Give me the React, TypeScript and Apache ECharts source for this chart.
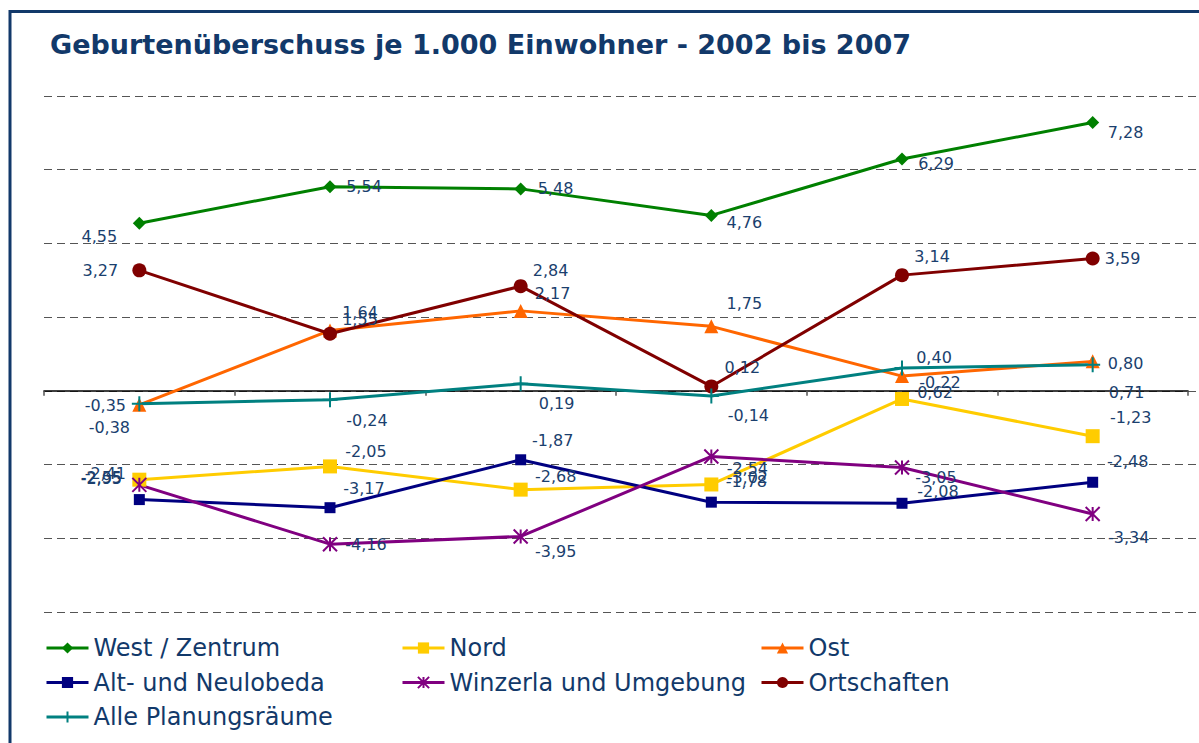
import React, { useEffect, useRef } from "react";
import * as echarts from "echarts";

const categories = ["2002", "2003", "2004", "2005", "2006", "2007"];
const westZentrum = [4.55, 5.54, 5.48, 4.76, 6.29, 7.28];
const nord = [-2.41, -2.05, -2.68, -2.54, -0.22, -1.23];
const ost = [-0.38, 1.64, 2.17, 1.75, 0.4, 0.8];
const altNeulobeda = [-2.95, -3.17, -1.87, -3.02, -3.05, -2.48];
const winzerla = [-2.55, -4.16, -3.95, -1.78, -2.08, -3.34];
const ortschaften = [3.27, 1.55, 2.84, 0.12, 3.14, 3.59];
const allePlanungsraeume = [-0.35, -0.24, 0.19, -0.14, 0.62, 0.71];

// label placement (layout only)
const offWest = [[-40, 13], [34, 0], [35, 0], [33, 7], [34, 4], [33, 10]];
const offNord = [[-34, -6], [36, -15], [35, -13], [36, -16], [38, -16], [38, -19]];
const offOst = [[-30, 23], [30, -18], [32, -17], [33, -23], [32, -19], [33, 2]];
const offAlt = [[-38, -21], [34, -19], [32, -19], [36, -25], [34, -26], [35, -21]];
const offWinz = [[-38, -7], [36, 0], [35, 15], [35, 25], [36, 24], [36, 24]];
const offOrt = [[-39, 0], [30, -14], [30, -16], [31, -19], [30, -19], [30, 0]];
const offAlle = [[-34, 2], [37, 21], [36, 20], [37, 19], [33, 24], [34, 28]];

const FONT = "'DejaVu Sans', Verdana, sans-serif";
const LABEL_COLOR = "#1b3f6e";
const NAVY = "#12396a";

const fmt = (v: number) => v.toFixed(2).replace(".", ",");

function mkSeries(
  name: string,
  values: number[],
  offsets: number[][],
  color: string,
  symbol: string,
  symbolSize: number,
  stroke = false
) {
  return {
    name,
    type: "line",
    xAxisIndex: 0,
    yAxisIndex: 0,
    symbol,
    symbolSize,
    showAllSymbol: true,
    lineStyle: { color, width: 3 },
    itemStyle: stroke
      ? { color, borderColor: color, borderWidth: 2 }
      : { color, borderWidth: 0 },
    data: values.map((v, i) => ({
      value: v,
      label: {
        show: true,
        position: "inside",
        offset: offsets[i],
        formatter: fmt(v),
        color: LABEL_COLOR,
        fontSize: 16,
        fontFamily: FONT,
        textBorderWidth: 0,
      },
    })),
  };
}

export default function App() {
  const ref = useRef<HTMLDivElement>(null);

  useEffect(() => {
    document.body.style.margin = "0";
    if (!ref.current) return;
    const chart = echarts.init(ref.current, null, { renderer: "svg" });
    const legendText = {
      color: NAVY,
      fontSize: 24,
      fontFamily: FONT,
      lineHeight: 24,
    };
    const legendCommon = {
      orient: "vertical",
      top: 636,
      padding: 0,
      itemWidth: 42,
      itemHeight: 14,
      itemGap: 10.5,
      textStyle: legendText,
      lineStyle: { width: 3 },
    };
    chart.setOption({
      animation: false,
      backgroundColor: "#ffffff",
      title: {
        text: "Geburtenüberschuss je 1.000 Einwohner - 2002 bis 2007",
        left: 50,
        top: 31,
        padding: 0,
        textStyle: {
          color: NAVY,
          fontSize: 27,
          fontWeight: "bold",
          fontFamily: FONT,
        },
      },
      graphic: [
        {
          type: "rect",
          shape: { x: 10, y: 11.5, width: 1400, height: 900 },
          style: { fill: "none", stroke: NAVY, lineWidth: 3 },
          silent: true,
        },
      ],
      legend: [
        { ...legendCommon, left: 45, data: ["West / Zentrum", "Alt- und Neulobeda", "Alle Planungsräume"] },
        { ...legendCommon, left: 401, data: ["Nord", "Winzerla und Umgebung"] },
        { ...legendCommon, left: 760, data: ["Ost", "Ortschaften"] },
      ],
      grid: [
        { left: 44, right: 11, top: 96, bottom: 131, containLabel: false },
        { left: 44, right: 0, top: 96, bottom: 131, containLabel: false },
      ],
      xAxis: [
        {
          type: "category",
          gridIndex: 0,
          data: categories,
          boundaryGap: true,
          axisLine: { show: true, onZero: true, lineStyle: { color: "#000000", width: 1.5 } },
          axisTick: { show: true, length: 5, inside: false, lineStyle: { color: "#555555", width: 1.5 } },
          axisLabel: { show: false },
          splitLine: { show: false },
        },
        {
          type: "category",
          gridIndex: 1,
          data: categories,
          show: false,
        },
      ],
      yAxis: [
        {
          type: "value",
          gridIndex: 0,
          min: -6,
          max: 8,
          interval: 2,
          axisLine: { show: false },
          axisTick: { show: false },
          axisLabel: { show: false },
          splitLine: { show: false },
        },
        {
          type: "value",
          gridIndex: 1,
          min: -6,
          max: 8,
          interval: 2,
          axisLine: { show: false },
          axisTick: { show: false },
          axisLabel: { show: false },
          splitLine: {
            show: true,
            lineStyle: { color: "#555555", width: 1.2, type: [8, 5] },
          },
        },
      ],
      series: [
        mkSeries("West / Zentrum", westZentrum, offWest, "#008000", "diamond", 13),
        mkSeries("Nord", nord, offNord, "#FFCC00", "rect", 14),
        mkSeries("Ost", ost, offOst, "#FF6600", "triangle", 14),
        mkSeries("Alt- und Neulobeda", altNeulobeda, offAlt, "#000080", "rect", 11),
        mkSeries(
          "Winzerla und Umgebung",
          winzerla,
          offWinz,
          "#800080",
          "path://M-1,-1L1,1M1,-1L-1,1M0,-1L0,1",
          14,
          true
        ),
        mkSeries("Ortschaften", ortschaften, offOrt, "#800000", "circle", 14),
        mkSeries(
          "Alle Planungsräume",
          allePlanungsraeume,
          offAlle,
          "#008080",
          "path://M0,-1L0,1M-1,0L1,0",
          15,
          true
        ),
      ],
    });
    return () => chart.dispose();
  }, []);

  return <div ref={ref} style={{ width: 1199, height: 743 }} />;
}
